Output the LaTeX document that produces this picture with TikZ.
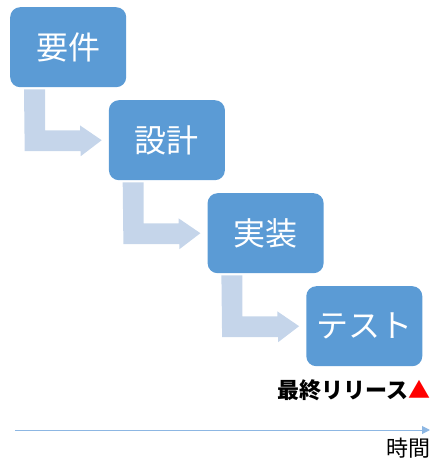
\documentclass[tikz,border=0pt]{standalone}
\usepackage{fontspec}
\setmainfont{Noto Sans CJK JP}
\usetikzlibrary{positioning,arrows.meta}
\definecolor{stagefill}{HTML}{5B9BD5}
\definecolor{flowfill}{HTML}{C5D5EA}
\definecolor{timeline}{HTML}{8DB7E3}

\begin{document}
\begin{tikzpicture}
    [x=1pt,y=-1pt,
      stage/.style={anchor=north west,fill=stagefill,rounded corners=10pt,text=white,
        minimum width=116pt,minimum height=80pt,inner sep=0pt,font=\fontsize{32}{36}\selectfont},
      flow/.style={fill=flowfill},
      label/.style={inner sep=0pt,font=\fontsize{22}{24}\selectfont}]
    \useasboundingbox (0,0) rectangle (436,464);

    \foreach \i/\txt in {1/要件,2/設計,3/実装,4/テスト} {
      \node[stage] (s\i) at ({10+98.7*(\i-1)},{7+93*(\i-1)}) {\txt};
    }
    % bent arrows from one stage to the next
    \foreach \i [count=\j from 2] in {1,2,3} {
      \fill[flow] ([xshift=14pt,yshift=-2pt]s\i.south west) -- ++(21,0) -- ++(0,41)
        -- ++(35,0) -- ++(0,-5) -- ([xshift=-7pt]s\j.west) -- ++(-21,16) -- ++(0,-5)
        -- ++(-56,0) -- cycle;
    }

    \node[label,anchor=east,font=\fontsize{22}{24}\selectfont\bfseries] (release) at (431,390)
      {最終リリース{\color{red}▲}};

    \coordinate (t0) at (15,430);
    \coordinate (t1) at (430,430);
    \draw[timeline,line width=1pt,-{Triangle[length=8pt,width=8pt]}] (t0) -- (t1);
    \node[label,anchor=north east] (time) at (431,438) {時間};
\end{tikzpicture}
\end{document}
